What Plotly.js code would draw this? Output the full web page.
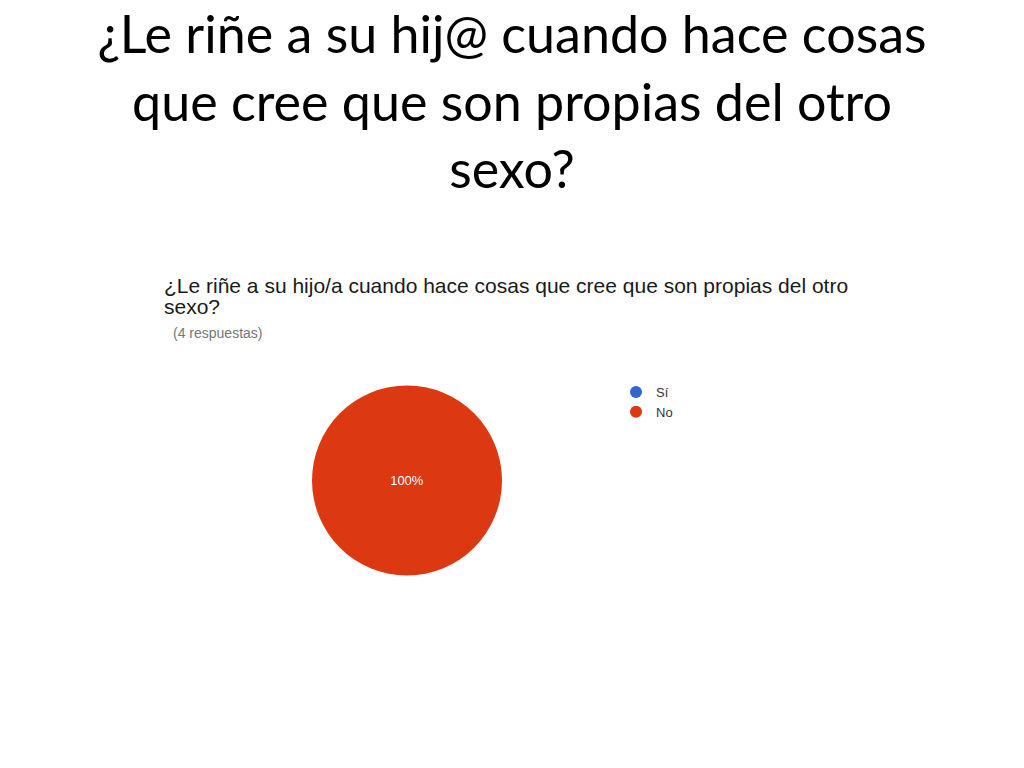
<!DOCTYPE html>
<html>
<head>
<meta charset="utf-8">
<script src="https://cdn.plot.ly/plotly-3.0.1.min.js"></script>
<style>html,body{margin:0;padding:0;background:#fff;}#chart{width:1024px;height:768px;}</style>
</head>
<body>
<div id="chart"></div>
<script>
const slideTitle = "¿Le riñe a su hij@ cuando hace cosas<br>que cree que son propias del otro<br>sexo?";
const chartTitleLines = ["¿Le riñe a su hijo/a cuando hace cosas que cree que son propias del otro", "sexo?"];
const responsesNote = "(4 respuestas)";
const categories = ["Sí", "No"];
const values = [0, 4];
const colors = ["#3366cc", "#dc3912"];

const traces = [{
  type: "pie",
  labels: categories,
  values: values,
  marker: {colors: colors, line: {width: 0}},
  textinfo: "percent",
  texttemplate: "%{percent:.0%}",
  textposition: "inside",
  insidetextfont: {family: "Liberation Sans, Arial", size: 13, color: "#ffffff"},
  sort: false,
  direction: "clockwise",
  showlegend: false,
  hoverinfo: "label+percent",
  domain: {x: [312/1024, 502/1024], y: [1 - 576/768, 1 - 385/768]}
}];
categories.forEach((c, i) => {
  traces.push({
    type: "scatter", mode: "markers", x: [null], y: [null], name: c,
    marker: {color: colors[i], size: 12, symbol: "circle"},
    showlegend: true, hoverinfo: "skip"
  });
});

const annotations = chartTitleLines.map((t, i) => ({
  text: t, xref: "paper", yref: "paper", x: 162/1024, y: 1 - (286 + i*21)/768,
  xanchor: "left", yanchor: "middle", showarrow: false,
  font: {family: "Liberation Sans, Arial", size: 21, color: "#1a1a1a"}
}));
annotations.push({
  text: responsesNote, xref: "paper", yref: "paper", x: 171/1024, y: 1 - 333/768,
  xanchor: "left", yanchor: "middle", showarrow: false,
  font: {family: "Liberation Sans, Arial", size: 14, color: "#757575"}
});

const layout = {
  width: 1024, height: 768,
  margin: {l: 0, r: 0, t: 0, b: 0},
  paper_bgcolor: "#ffffff", plot_bgcolor: "#ffffff",
  title: {text: slideTitle, x: 0.5, xanchor: "center", y: 1 - 53/768, yanchor: "middle",
    font: {family: "Lato, Open Sans, sans-serif", size: 52, color: "#000000"}},
  xaxis: {visible: false, domain: [0.9, 1]},
  yaxis: {visible: false, domain: [0.9, 1]},
  legend: {x: 616/1024, y: 1 - 377/768, xanchor: "left", yanchor: "top",
    font: {family: "Liberation Sans, Arial", size: 13, color: "#333333"},
    bgcolor: "rgba(0,0,0,0)", itemclick: false},
  annotations: annotations,
  showlegend: true
};
Plotly.newPlot("chart", traces, layout, {displayModeBar: false, staticPlot: true});
</script>
</body>
</html>
